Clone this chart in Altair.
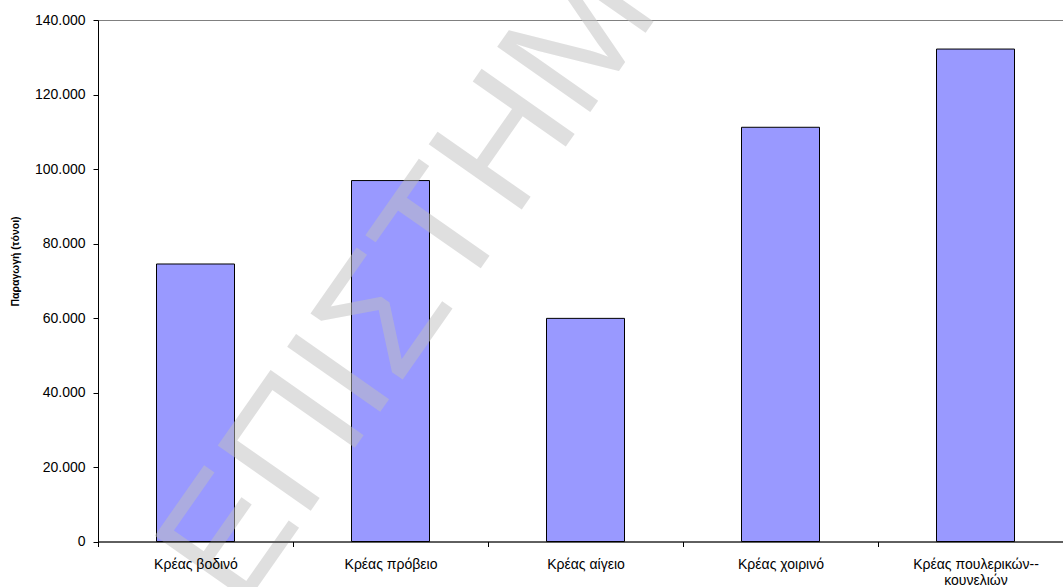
import altair as alt
import pandas as pd

# Meat production by type (tonnes)
categories = [
    "Κρέας βοδινό",
    "Κρέας πρόβειο",
    "Κρέας αίγειο",
    "Κρέας χοιρινό",
    "Κρέας πουλερικών--κουνελιών",
]
production = [74500, 96900, 59900, 111200, 132200]
y_ticks = [0, 20000, 40000, 60000, 80000, 100000, 120000, 140000]
watermark_text = ["ΕΠΙΣΤΗΜΗ"]

FONT = "Liberation Sans"

df = pd.DataFrame({"category": categories, "tonnes": production})

x_enc = alt.X(
    "category:N",
    sort=categories,
    scale=alt.Scale(range=[0, 975], paddingInner=0, paddingOuter=0),
    axis=alt.Axis(
        title=None,
        labelAngle=0,
        labelFont=FONT,
        labelFontSize=14,
        labelColor="black",
        labelPadding=11,
        labelLineHeight=16,
        labelLimit=400,
        labelExpr="split(replace(datum.label, '--', '--|'), '|')",
        tickBand="extent",
        tickSize=5,
        tickColor="black",
        domainColor="black",
        zindex=1,
    ),
)

y_enc = alt.Y(
    "tonnes:Q",
    scale=alt.Scale(domain=[0, 140000], nice=False),
    axis=alt.Axis(
        values=y_ticks,
        grid=False,
        labelFont=FONT,
        labelFontSize=14,
        labelColor="black",
        labelPadding=8,
        labelExpr="replace(format(datum.value, ','), ',', '.')",
        tickSize=5,
        tickColor="black",
        domainColor="black",
        title="Παραγωγή (τόνοι)",
        titleFont=FONT,
        titleFontSize=10.5,
        titleFontWeight="bold",
        titleColor="black",
        titleAngle=270,
        titleAlign="center",
        titleBaseline="middle",
        titleX=-83,
        titleY=241,
        zindex=1,
    ),
)

bars = alt.Chart(df).mark_bar(
    size=78, fill="#9999FF", stroke="black", strokeWidth=1
).encode(x=x_enc, y=y_enc)

# Diagonal light-grey watermark over the plot
watermark = alt.Chart(pd.DataFrame({"t": watermark_text})).mark_text(
    align="left",
    baseline="alphabetic",
    angle=305,
    fontSize=165,
    font=FONT,
    color="#c0c0c0",
    opacity=0.5,
).encode(text="t:N", x=alt.value(142), y=alt.value(592))

chart = (
    alt.layer(bars, watermark)
    .properties(
        width=965,
        height=521.5,
        autosize=alt.AutoSizeParams(type="none"),
        padding={"left": 98, "top": 20, "right": 0, "bottom": 45.5},
        background="white",
    )
    .configure_view(stroke="#808080", strokeWidth=1)
)

chart.save("out.html", embed_options={"renderer": "svg", "actions": False})
